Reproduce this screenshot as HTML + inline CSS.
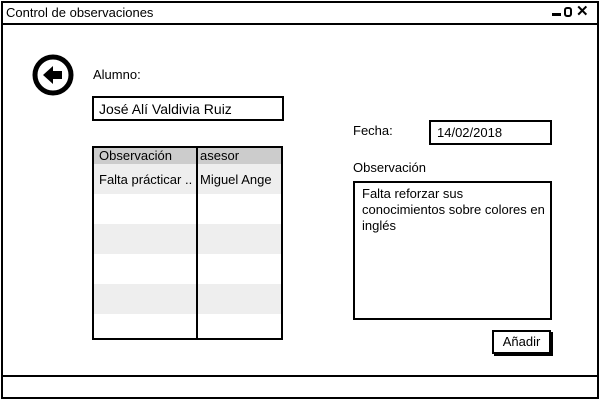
<!DOCTYPE html>
<html><head><meta charset="utf-8"><style>
body{margin:0;width:600px;height:400px;background:#fff;font-family:"Liberation Sans",sans-serif;font-size:13px;color:#000;position:relative;overflow:hidden}
.a{position:absolute;box-sizing:border-box}
.b{border:2px solid #000;background:#fff}
</style></head><body>
<div class="a" style="left:1px;top:1px;width:598px;height:398px;border:2px solid #000"></div>
<div class="a" style="left:1px;top:23px;width:598px;height:2px;background:#000"></div>
<div class="a" style="left:6px;top:5px;font-size:13px">Control de observaciones</div>
<div class="a" style="left:552px;top:13px;width:9px;height:3px;background:#000"></div>
<div class="a" style="left:564px;top:7px;width:8px;height:10px;border:2px solid #000;border-radius:3px"></div>
<div class="a" style="left:576px;top:2px;font-size:15px;font-weight:bold">✕</div>
<div class="a" style="left:1px;top:375px;width:598px;height:2px;background:#000"></div>

<svg class="a" style="left:31px;top:53px" width="44" height="44"><circle cx="22" cy="22" r="18" fill="none" stroke="#000" stroke-width="5"/><path d="M12 22 L22 13 L22 18 L31 18 L31 26 L22 26 L22 31 Z" fill="#000"/></svg>

<div class="a" style="left:93px;top:67px">Alumno:</div>
<div class="a b" style="left:92px;top:96px;width:192px;height:25px;padding:3px 5px;font-size:14px">José Alí Valdivia Ruiz</div>

<div class="a b" style="left:92px;top:146px;width:191px;height:194px;overflow:hidden">
<div class="a" style="left:0;top:0;width:187px;height:16px;background:#ccc"></div>
<div class="a" style="left:0;top:16px;width:187px;height:30px;background:#eee"></div>
<div class="a" style="left:0;top:76px;width:187px;height:30px;background:#eee"></div>
<div class="a" style="left:0;top:136px;width:187px;height:30px;background:#eee"></div>
<div class="a" style="left:102px;top:0;width:2px;height:190px;background:#000"></div>
<div class="a" style="left:5px;top:0px">Observación</div>
<div class="a" style="left:106px;top:0px">asesor</div>
<div class="a" style="left:5px;top:24px;white-space:nowrap">Falta prácticar ..</div>
<div class="a" style="left:106px;top:24px;white-space:nowrap">Miguel Ange</div>
</div>

<div class="a" style="left:353px;top:123px">Fecha:</div>
<div class="a b" style="left:429px;top:120px;width:123px;height:25px;padding:3px 6px">14/02/2018</div>
<div class="a" style="left:353px;top:160px">Observación</div>
<div class="a b" style="left:353px;top:181px;width:199px;height:139px;padding:3px 2px 3px 7px;line-height:16px;white-space:nowrap">Falta reforzar sus<br>conocimientos sobre colores en<br>inglés</div>
<div class="a b" style="left:492px;top:330px;width:59px;height:24px;text-align:center;line-height:20px;box-shadow:2px 2px 0 #000">Añadir</div>
</body></html>
